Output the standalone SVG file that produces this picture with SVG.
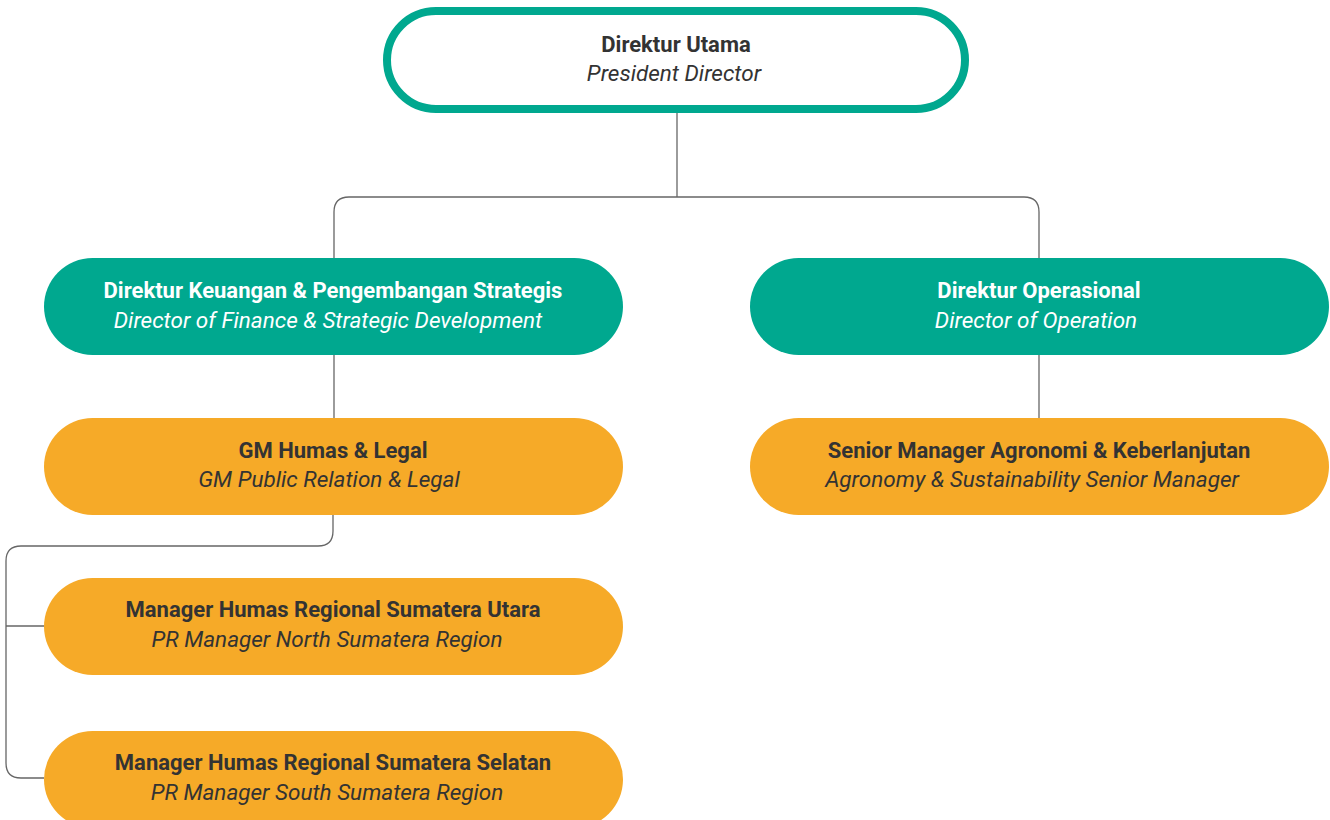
<svg xmlns="http://www.w3.org/2000/svg" width="1330" height="820" viewBox="0 0 1330 820">
<style>
.t{font-family:Roboto,"Liberation Sans",sans-serif;font-size:22px;text-anchor:middle}
.b{font-weight:bold}
.i{font-style:italic;font-size:22.5px}
.dark{fill:#333333}
.light{fill:#ffffff}
.teal{fill:#00A88F}
.orange{fill:#F6AA28}
.conn{fill:none;stroke:#666666;stroke-width:1.3}
</style>
<rect width="1330" height="820" fill="#ffffff"/>
<g id="connectors">
<path class="conn" d="M677 113 V197"/>
<path class="conn" d="M334 258 V212 Q334 197 349 197 H1024 Q1039 197 1039 212 V258"/>
<path class="conn" d="M334 355 V418"/>
<path class="conn" d="M1039 355 V418"/>
<path class="conn" d="M333 515 V531 Q333 546 318 546 H21 Q6 546 6 561 V763 Q6 778 21 778 H44"/>
<path class="conn" d="M6 626 H44"/>
</g>
<g id="n-president">
<rect x="387" y="11" width="578" height="98" rx="49" fill="#ffffff" stroke="#00A88F" stroke-width="8"/>
<text class="t b dark" x="676" y="52">Direktur Utama</text>
<text class="t i dark" x="674" y="81">President Director</text>
</g>
<g id="n-finance">
<rect class="teal" x="44" y="258" width="579" height="97" rx="48.5"/>
<text class="t b light" x="333" y="298">Direktur Keuangan &amp; Pengembangan Strategis</text>
<text class="t i light" x="328" y="328">Director of Finance &amp; Strategic Development</text>
</g>
<g id="n-operation">
<rect class="teal" x="750" y="258" width="579" height="97" rx="48.5"/>
<text class="t b light" x="1039" y="298">Direktur Operasional</text>
<text class="t i light" x="1036" y="328">Director of Operation</text>
</g>
<g id="n-gm">
<rect class="orange" x="44" y="418" width="579" height="97" rx="48.5"/>
<text class="t b dark" x="333" y="458">GM Humas &amp; Legal</text>
<text class="t i dark" x="329" y="487">GM Public Relation &amp; Legal</text>
</g>
<g id="n-agronomy">
<rect class="orange" x="750" y="418" width="579" height="97" rx="48.5"/>
<text class="t b dark" x="1039" y="458">Senior Manager Agronomi &amp; Keberlanjutan</text>
<text class="t i dark" x="1032" y="487">Agronomy &amp; Sustainability Senior Manager</text>
</g>
<g id="n-north">
<rect class="orange" x="44" y="578" width="579" height="97" rx="48.5"/>
<text class="t b dark" x="333" y="617">Manager Humas Regional Sumatera Utara</text>
<text class="t i dark" x="327" y="647">PR Manager North Sumatera Region</text>
</g>
<g id="n-south">
<rect class="orange" x="44" y="731" width="579" height="97" rx="48.5"/>
<text class="t b dark" x="333" y="770">Manager Humas Regional Sumatera Selatan</text>
<text class="t i dark" x="327" y="800">PR Manager South Sumatera Region</text>
</g>
</svg>
